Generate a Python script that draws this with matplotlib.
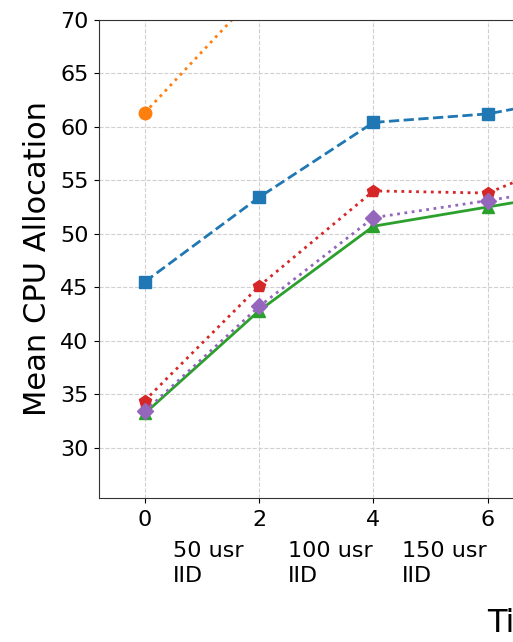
import matplotlib
matplotlib.use("Agg")
import matplotlib.pyplot as plt

# x positions (time steps) and mean CPU allocation per method
steps = [0, 2, 4, 6, 8]
series_blue = [45.5, 53.4, 60.4, 61.2, 63.2]
series_orange = [61.3, 72.7, 80.0, 82.0, 83.0]
series_green = [33.2, 42.8, 50.7, 52.5, 54.3]
series_red = [34.4, 45.1, 54.0, 53.8, 58.2]
series_purple = [33.4, 43.2, 51.5, 53.1, 54.8]

phase_labels = ["50 usr\nIID", "100 usr\nIID", "150 usr\nIID"]
phase_x = [0.5, 2.5, 4.5]

fig = plt.figure(figsize=(5.13, 6.42), dpi=100)
# axes run past the right edge of the figure
ax = fig.add_axes([0.193, 0.2243, 1.07, 0.745])

ax.plot(steps, series_blue, color="C0", linestyle="--", marker="s", lw=2, ms=9)
ax.plot(steps, series_orange, color="C1", linestyle=":", marker="o", lw=2, ms=9)
ax.plot(steps, series_green, color="C2", linestyle="-", marker="^", lw=2, ms=9)
ax.plot(steps, series_red, color="C3", linestyle=":", marker="p", lw=2, ms=9)
ax.plot(steps, series_purple, color="C4", linestyle=":", marker="D", lw=2, ms=8)

ax.set_xlim(-0.8, 8.8)
ax.set_ylim(25.3, 70)
ax.set_xticks([0, 2, 4, 6, 8])
ax.set_yticks([30, 35, 40, 45, 50, 55, 60, 65, 70])
ax.tick_params(labelsize=16)
ax.tick_params(axis="x", pad=5)
ax.tick_params(axis="y", pad=4)
ax.grid(True, linestyle="--", color="#d0d0d0", lw=0.8)
for sp in ax.spines.values():
    sp.set_color("#333333")

for x, lab in zip(phase_x, phase_labels):
    ax.text(x, -0.09, lab, transform=ax.get_xaxis_transform(),
            ha="left", va="top", fontsize=16, linespacing=1.3)

ax.set_ylabel("Mean CPU Allocation", fontsize=22, labelpad=6)
ax.set_xlabel("Time Step", fontsize=23, ha="left", va="baseline")
ax.xaxis.set_label_coords((487 - 99) / (1.07 * 513), -0.28)

fig.savefig("out.png", dpi=100)
